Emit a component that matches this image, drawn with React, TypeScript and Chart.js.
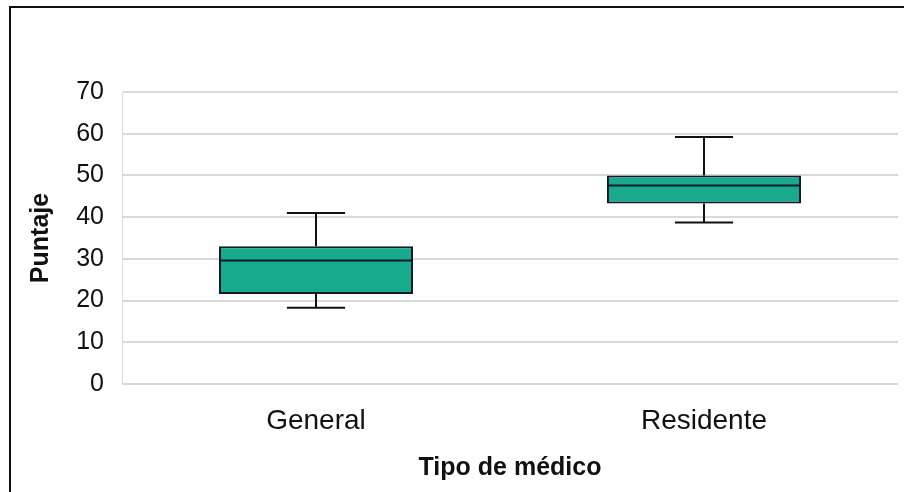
import React, { useEffect, useRef } from "react";
import { Chart, registerables } from "chart.js";

Chart.register(...registerables);

const categories = ["General", "Residente"];
const whiskerLow = [18.3, 38.7];
const q1 = [21.6, 43.3];
const median = [29.6, 47.6];
const q3 = [33, 50];
const whiskerHigh = [41, 59.2];
const yTicks = [0, 10, 20, 30, 40, 50, 60, 70];

const FONT = "'Liberation Sans', Arial, sans-serif";

const boxPlugin = {
  id: "boxWhiskers",
  afterDatasetsDraw(chart: any) {
    const meta = chart.getDatasetMeta(0);
    const y = chart.scales.y;
    const ctx = chart.ctx;
    ctx.save();
    meta.data.forEach((bar: any, i: number) => {
      const { x, width } = bar.getProps(["x", "width"], true);
      const left = x - width / 2;
      const right = x + width / 2;
      const cap = width * 0.15;
      // median
      ctx.strokeStyle = "#0f1630";
      ctx.lineWidth = 2;
      ctx.beginPath();
      ctx.moveTo(left, y.getPixelForValue(median[i]));
      ctx.lineTo(right, y.getPixelForValue(median[i]));
      ctx.stroke();
      // whiskers
      ctx.strokeStyle = "#111";
      ctx.lineWidth = 2;
      ctx.beginPath();
      ctx.moveTo(x, y.getPixelForValue(q3[i]));
      ctx.lineTo(x, y.getPixelForValue(whiskerHigh[i]));
      ctx.moveTo(x - cap, y.getPixelForValue(whiskerHigh[i]));
      ctx.lineTo(x + cap, y.getPixelForValue(whiskerHigh[i]));
      ctx.moveTo(x, y.getPixelForValue(q1[i]));
      ctx.lineTo(x, y.getPixelForValue(whiskerLow[i]));
      ctx.moveTo(x - cap, y.getPixelForValue(whiskerLow[i]));
      ctx.lineTo(x + cap, y.getPixelForValue(whiskerLow[i]));
      ctx.stroke();
    });
    ctx.restore();
  },
};

export default function App() {
  const ref = useRef<HTMLCanvasElement | null>(null);

  useEffect(() => {
    if (!ref.current) return;
    const chart = new Chart(ref.current, {
      type: "bar",
      data: {
        labels: categories,
        datasets: [
          {
            label: "Puntaje",
            data: categories.map((_, i) => [q1[i], q3[i]]) as any,
            backgroundColor: "#17ab8c",
            borderColor: "#141a2a",
            borderWidth: 2,
            borderSkipped: false,
            barPercentage: 0.5,
            categoryPercentage: 1,
          },
        ],
      },
      options: {
        responsive: false,
        animation: false,
        layout: { padding: { top: 92, left: 0, right: 6, bottom: 0 } },
        plugins: {
          legend: { display: false },
          tooltip: { enabled: false },
        },
        scales: {
          x: {
            grid: { display: false },
            border: { display: false },
            ticks: {
              color: "#111",
              font: { family: FONT, size: 28 },
              padding: 12,
            },
            title: {
              display: true,
              text: "Tipo de médico",
              color: "#111",
              font: { family: FONT, size: 25, weight: "bold" },
              padding: { top: 0, bottom: 9 },
            },
            afterFit: (s: any) => {
              s.height = 108;
            },
          },
          y: {
            min: 0,
            max: 70,
            afterBuildTicks: (s: any) => {
              s.ticks = yTicks.map((v) => ({ value: v }));
            },
            grid: { color: "#d9d9d9", lineWidth: 2, drawTicks: false },
            border: { display: true, color: "#dcdcdc", width: 1 },
            ticks: {
              color: "#111",
              font: { family: FONT, size: 25 },
              padding: 18,
            },
            title: {
              display: true,
              text: "Puntaje",
              color: "#111",
              font: { family: FONT, size: 25, weight: "bold" },
              padding: { top: 26, bottom: 0 },
            },
            afterFit: (s: any) => {
              s.width = 122;
            },
          },
        },
      },
      plugins: [boxPlugin],
    });
    return () => chart.destroy();
  }, []);

  return (
    <div style={{ position: "absolute", left: 0, top: 0, width: 904, height: 492, background: "#fff" }}>
      <canvas ref={ref} width={904} height={492} style={{ position: "absolute", left: 0, top: 0 }} />
      <div
        style={{
          position: "absolute",
          left: 9,
          top: 6,
          width: 895,
          height: 486,
          borderTop: "2px solid #111",
          borderLeft: "2px solid #111",
          boxSizing: "border-box",
          pointerEvents: "none",
        }}
      />
    </div>
  );
}
